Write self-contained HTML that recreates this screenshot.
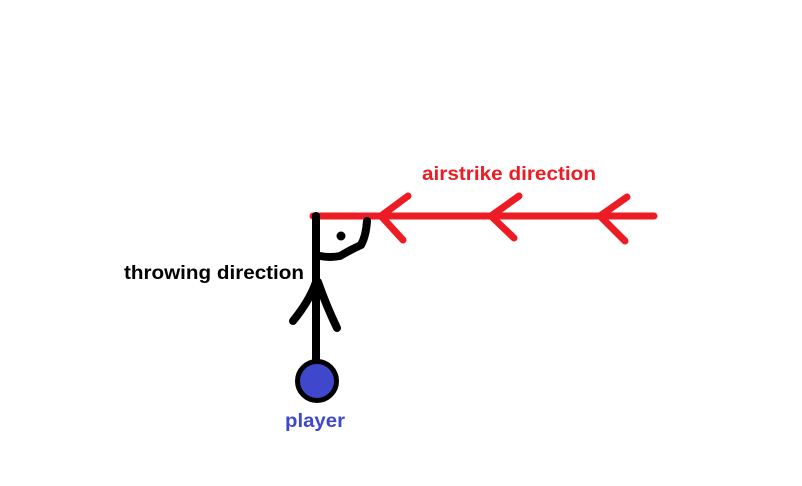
<!DOCTYPE html>
<html><head><style>
html,body{margin:0;padding:0;background:#fff;}
svg{display:block;}
</style></head><body>
<svg width="802" height="486" viewBox="0 0 802 486" xmlns="http://www.w3.org/2000/svg">
<rect width="802" height="486" fill="#fff"/>
<g stroke="#ed1c24" stroke-width="7" stroke-linecap="round" fill="none" stroke-linejoin="round">
<line x1="313" y1="216" x2="654" y2="216"/>
<polyline points="408,196 381,216 403,240"/>
<polyline points="519,196 491,216 514,238"/>
<polyline points="627,197 600,216 625,241"/>
</g>
<g stroke="#000" stroke-width="8" stroke-linecap="round" fill="none" stroke-linejoin="round">
<line x1="316" y1="216" x2="316" y2="362"/>
<path d="M316,282 Q310,300 293,321"/>
<path d="M318,282 Q326,305 337,328"/>
<path d="M367,221 Q366,236 361,245 Q350,250 340,256 Q330,258 320,256"/>
</g>
<circle cx="341" cy="236" r="4.5" fill="#000"/>
<circle cx="317" cy="381" r="19.5" fill="#3f48cc" stroke="#000" stroke-width="5"/>
<g font-family="Liberation Sans, sans-serif" font-weight="bold" font-size="19.5">
<text x="422" y="180" fill="#ed1c24" textLength="174" lengthAdjust="spacingAndGlyphs">airstrike direction</text>
<text x="124" y="279" fill="#000" textLength="180" lengthAdjust="spacingAndGlyphs">throwing direction</text>
<text x="285" y="427" fill="#3f48cc" textLength="60" lengthAdjust="spacingAndGlyphs">player</text>
</g>
</svg>
</body></html>
